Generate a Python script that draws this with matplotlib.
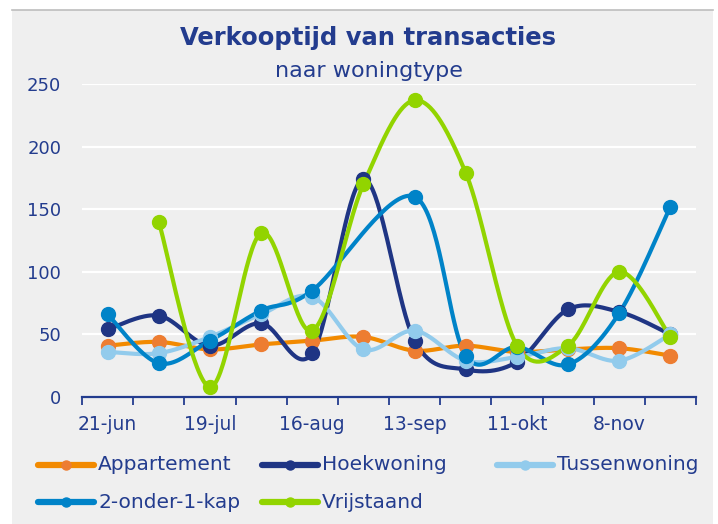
import numpy as np
import matplotlib
matplotlib.use("Agg")
import matplotlib.pyplot as plt
from matplotlib.lines import Line2D
from matplotlib.patches import Rectangle

plt.rcParams['font.family'] = ['DejaVu Sans']

dates = ["21-jun", "5-jul", "19-jul", "2-aug", "16-aug", "30-aug",
         "13-sep", "27-sep", "11-okt", "25-okt", "8-nov", "22-nov"]
tick_labels = ["21-jun", "19-jul", "16-aug", "13-sep", "11-okt", "8-nov"]

appartement = [41, 44, 38, 42, 45, 48, 37, 41, 36, 38, 39, 33]
hoekwoning = [54, 65, 41, 59, 35, 174, 45, 22, 28, 70, 68, 50]
tussenwoning = [36, 35, 48, 66, 80, 38, 53, 29, 32, 39, 29, 50]
twee_onder_een_kap = [66, 27, 45, 69, 85, None, 160, 33, 40, 26, 67, 152]
vrijstaand = [None, 140, 8, 131, 53, 170, 237, 179, 41, 41, 100, 48]

series = [
    ("Appartement", appartement, "#f28a00", "#ed7d31"),
    ("Hoekwoning", hoekwoning, "#1f3584", "#1f3584"),
    ("Tussenwoning", tussenwoning, "#92cbec", "#92cbec"),
    ("2-onder-1-kap", twee_onder_een_kap, "#0083c8", "#0083c8"),
    ("Vrijstaand", vrijstaand, "#92d400", "#92d400"),
]

NAVY = "#233c8e"
BG = "#efefef"


def smooth(xs, ys, n=40):
    pts = np.column_stack([xs, ys]).astype(float)
    m = len(pts)
    out = [pts[0]]
    for i in range(m - 1):
        p0 = pts[i - 1] if i > 0 else pts[i]
        p1 = pts[i]
        p2 = pts[i + 1]
        p3 = pts[i + 2] if i + 2 < m else pts[i + 1]
        b1 = p1 + (p2 - p0) / 6.0
        b2 = p2 - (p3 - p1) / 6.0
        t = np.linspace(0, 1, n)[1:, None]
        seg = ((1 - t) ** 3) * p1 + 3 * ((1 - t) ** 2) * t * b1 + 3 * (1 - t) * t ** 2 * b2 + t ** 3 * p2
        out.extend(seg)
    out = np.array(out)
    return out[:, 0], out[:, 1]


fig = plt.figure(figsize=(7.18, 5.24), dpi=100, facecolor="white")
fig.patches.append(Rectangle((12 / 718, 0), 701 / 718, 514 / 524, transform=fig.transFigure,
                             facecolor=BG, edgecolor="none", zorder=-10))
fig.lines.append(Line2D([12 / 718, 713 / 718], [514 / 524, 514 / 524], transform=fig.transFigure,
                        color="#bdbdbd", lw=1.2))

ax = fig.add_axes([82 / 718, 1 - 397 / 524, 614 / 718, 313 / 524])
ax.set_facecolor(BG)

for name, vals, lc, mc in series:
    xs = [i for i, v in enumerate(vals) if v is not None]
    ys = [v for v in vals if v is not None]
    sx, sy = smooth(xs, ys)
    ax.plot(sx, sy, color=lc, lw=3.0, solid_capstyle="round", zorder=3, clip_on=False)
    ax.plot(xs, ys, linestyle="none", marker="o", markersize=10, color=mc, zorder=4, clip_on=False)

ax.set_xlim(-0.5, len(dates) - 0.5)
ax.set_ylim(0, 250)
ax.set_yticks(np.arange(0, 251, 50))
ax.grid(axis="y", color="white", lw=1.6, zorder=0)
ax.set_axisbelow(True)
ax.tick_params(axis="y", length=0, labelsize=13, labelcolor=NAVY, pad=15)

ax.set_xticks(np.arange(-0.5, len(dates), 1))
ax.set_xticklabels([])
ax.set_xticks([dates.index(l) for l in tick_labels], minor=True)
ax.set_xticklabels(tick_labels, minor=True)
ax.tick_params(axis="x", which="major", length=6, width=1.3, color=NAVY, direction="out")
ax.tick_params(axis="x", which="minor", length=0, labelsize=13.5, labelcolor=NAVY, pad=13)

for s in ["top", "right", "left"]:
    ax.spines[s].set_visible(False)
ax.spines["bottom"].set_color(NAVY)
ax.spines["bottom"].set_linewidth(1.6)

fig.text(368 / 718, 1 - 38 / 524, "Verkooptijd van transacties", ha="center", va="center",
         fontsize=17.5, fontweight="bold", color=NAVY)
fig.text(369 / 718, 1 - 71 / 524, "naar woningtype", ha="center", va="center",
         fontsize=16, color=NAVY)

legend_pos = [(38, 465), (262, 465), (497, 465), (38, 502), (262, 502)]
for (name, vals, lc, mc), (lx, ly) in zip(series, legend_pos):
    yf = 1 - ly / 524
    fig.lines.append(Line2D([lx / 718, (lx + 56) / 718], [yf, yf], transform=fig.transFigure,
                            color=lc, lw=4.5, solid_capstyle="round"))
    fig.lines.append(Line2D([(lx + 28) / 718], [yf], transform=fig.transFigure,
                            marker="o", markersize=6.5, color=mc, linestyle="none"))
    fig.text((lx + 60) / 718, yf, name, ha="left", va="center", fontsize=14.5, color=NAVY)

fig.savefig("out.png", dpi=100, facecolor="white")
